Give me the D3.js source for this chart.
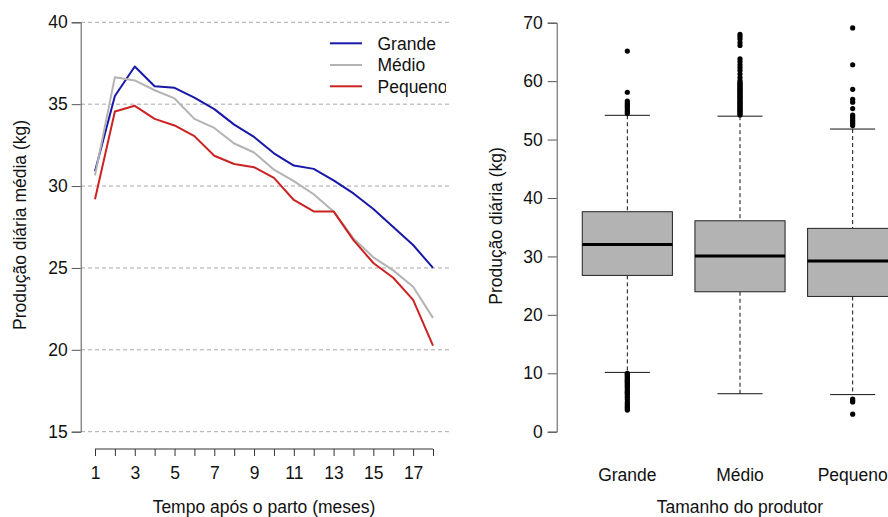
<!DOCTYPE html>
<html>
<head>
<meta charset="utf-8">
<script src="https://cdn.jsdelivr.net/npm/d3@7"></script>
<style>
  html, body { margin: 0; padding: 0; background: #fff; overflow: hidden; }
  svg { display: block; }
  text { font-family: "Liberation Sans", Arial, sans-serif; fill: #111; }
</style>
</head>
<body>
<svg id="chart" width="888" height="517"></svg>
<script>
// Monthly mean daily yield by producer size (months 1..18 after calving)
const months = d3.range(1, 19);
const grandeMean  = [30.9, 35.5, 37.3, 36.1, 36.0, 35.4, 34.7, 33.75, 33.0, 32.0, 31.25, 31.05, 30.35, 29.55, 28.6, 27.5, 26.4, 25.0];
const medioMean   = [30.65, 36.65, 36.45, 35.85, 35.35, 34.1, 33.55, 32.6, 32.05, 31.0, 30.3, 29.5, 28.45, 26.8, 25.65, 24.85, 23.85, 21.95];
const pequenoMean = [29.2, 34.55, 34.9, 34.1, 33.7, 33.05, 31.85, 31.35, 31.15, 30.5, 29.15, 28.45, 28.45, 26.7, 25.3, 24.4, 23.05, 20.25];
const seriesNames = ["Grande", "Médio", "Pequeno"];
const seriesColors = ["#1818a8", "#b3b3b3", "#cc2222"];
const leftYTicks = [15, 20, 25, 30, 35, 40];
const leftXLabels = [1, 3, 5, 7, 9, 11, 13, 15, 17];

// Distribution of daily yield by producer size
const boxCategories = ["Grande", "Médio", "Pequeno"];
const boxLowerWhisker = [10.15, 6.5, 6.35];
const boxQ1 = [26.75, 23.95, 23.15];
const boxMedian = [32.05, 30.05, 29.2];
const boxQ3 = [37.65, 36.1, 34.8];
const boxUpperWhisker = [54.15, 54.0, 51.8];
const grandeOutliers = [65.15, 58.1, 56.6, 56.3, 56.0, 55.7, 55.4, 55.1, 54.8, 54.5,
  10.0, 9.8, 9.6, 9.4, 9.2, 9.0, 8.8, 8.6, 8.4, 8.2, 8.0, 7.8, 7.5, 7.2, 6.9, 6.7, 6.5,
  6.2, 5.9, 5.5, 5.1, 4.8, 4.5, 4.2, 3.9, 3.7];
const medioOutliers = [68.0, 67.6, 67.2, 66.6, 66.1, 63.8, 63.3, 62.8, 62.3, 61.8, 61.2, 60.6, 60.1,
  59.8, 59.6, 59.4, 59.2, 59.0, 58.8, 58.6, 58.4, 58.2, 58.0, 57.8, 57.6, 57.4, 57.2, 57.0,
  56.8, 56.6, 56.4, 56.2, 56.0, 55.8, 55.6, 55.4, 55.2, 55.0, 54.8, 54.6, 54.4, 54.2];
const pequenoOutliers = [69.1, 62.8, 58.6, 56.9, 56.4, 55.3, 54.2, 53.9, 53.6, 53.3, 53.0, 52.7, 52.4,
  5.6, 5.3, 5.1, 3.0];
const rightYTicks = [0, 10, 20, 30, 40, 50, 60, 70];

const svg = d3.select("#chart");
const FS = "17.5px";

// ---------- Left panel: mean yield curves ----------
const xL = d3.scaleLinear().domain([1, 18]).range([95, 433]);
const yL = d3.scaleLinear().domain([15, 40]).range([431.7, 22.3]);
const left = svg.append("g");

left.selectAll("line.grid").data(leftYTicks).join("line")
  .attr("class", "grid")
  .attr("x1", 81).attr("x2", 450)
  .attr("y1", d => yL(d)).attr("y2", d => yL(d))
  .attr("stroke", "#a8a8a8").attr("stroke-width", 1)
  .attr("stroke-dasharray", "4,3");

const yAxisL = left.append("g").attr("transform", "translate(80.7,0)")
  .call(d3.axisLeft(yL).tickValues(leftYTicks).tickSize(9).tickPadding(4));
yAxisL.select(".domain").attr("stroke", "#555");
yAxisL.selectAll(".tick line").attr("stroke", "#555");
yAxisL.selectAll(".tick text").attr("font-size", FS).attr("font-family", "Liberation Sans, Arial, sans-serif").attr("fill", "#111");

const xAxisL = left.append("g").attr("transform", "translate(0,449)")
  .call(d3.axisBottom(xL).tickValues(months).tickSize(7).tickPadding(6)
    .tickFormat(d => leftXLabels.includes(d) ? d : ""));
xAxisL.select(".domain").attr("stroke", "#333").attr("d", `M${xL(1)},0H${xL(18)}`);
xAxisL.selectAll(".tick line").attr("stroke", "#333");
xAxisL.selectAll(".tick text").attr("font-size", FS).attr("font-family", "Liberation Sans, Arial, sans-serif").attr("fill", "#111")
  .attr("dy", "0.95em");

const lineGen = d3.line().x((d, i) => xL(months[i])).y(d => yL(d));
[grandeMean, medioMean, pequenoMean].forEach((s, i) => {
  left.append("path").datum(s)
    .attr("d", lineGen)
    .attr("fill", "none")
    .attr("stroke", seriesColors[i])
    .attr("stroke-width", 2)
    .attr("stroke-linejoin", "round");
});

// Legend (clipped at the plot region's right edge)
svg.append("defs").append("clipPath").attr("id", "plotClip")
  .append("rect").attr("x", 0).attr("y", 0).attr("width", 446).attr("height", 517);
const legend = left.append("g").attr("clip-path", "url(#plotClip)");
const legendY = [43.3, 65, 86.3];
seriesNames.forEach((n, i) => {
  legend.append("line")
    .attr("x1", 330).attr("x2", 362)
    .attr("y1", legendY[i]).attr("y2", legendY[i])
    .attr("stroke", seriesColors[i]).attr("stroke-width", 2);
  legend.append("text")
    .attr("x", 377.5).attr("y", legendY[i] + 6.3)
    .attr("font-size", FS)
    .text(n);
});

left.append("text")
  .attr("x", 264).attr("y", 513)
  .attr("text-anchor", "middle").attr("font-size", FS)
  .text("Tempo após o parto (meses)");
left.append("text")
  .attr("transform", "translate(25.5,225) rotate(-90)")
  .attr("text-anchor", "middle").attr("font-size", FS)
  .text("Produção diária média (kg)");

// ---------- Right panel: boxplots ----------
const xR = d3.scaleBand().domain(boxCategories).range([571, 909]).paddingInner(0.2).paddingOuter(0.1);
const yR = d3.scaleLinear().domain([0, 70]).range([431.7, 22.7]);
const right = svg.append("g");

const yAxisR = right.append("g").attr("transform", "translate(556.7,0)")
  .call(d3.axisLeft(yR).tickValues(rightYTicks).tickSize(9).tickPadding(5));
yAxisR.select(".domain").attr("stroke", "#555");
yAxisR.selectAll(".tick line").attr("stroke", "#555");
yAxisR.selectAll(".tick text").attr("font-size", FS).attr("font-family", "Liberation Sans, Arial, sans-serif").attr("fill", "#111");

const outlierSets = [grandeOutliers, medioOutliers, pequenoOutliers];
boxCategories.forEach((c, i) => {
  const x0 = xR(c), bw = xR.bandwidth(), cx = x0 + bw / 2;
  const g = right.append("g");
  // whiskers
  g.append("line").attr("x1", cx).attr("x2", cx)
    .attr("y1", yR(boxUpperWhisker[i])).attr("y2", yR(boxQ3[i]))
    .attr("stroke", "#111").attr("stroke-dasharray", "4,3");
  g.append("line").attr("x1", cx).attr("x2", cx)
    .attr("y1", yR(boxQ1[i])).attr("y2", yR(boxLowerWhisker[i]))
    .attr("stroke", "#111").attr("stroke-dasharray", "4,3");
  [boxUpperWhisker[i], boxLowerWhisker[i]].forEach(v => {
    g.append("line").attr("x1", cx - bw / 4).attr("x2", cx + bw / 4)
      .attr("y1", yR(v)).attr("y2", yR(v))
      .attr("stroke", "#111").attr("stroke-width", 1);
  });
  // box
  g.append("rect")
    .attr("x", x0).attr("width", bw)
    .attr("y", yR(boxQ3[i])).attr("height", yR(boxQ1[i]) - yR(boxQ3[i]))
    .attr("fill", "#b3b3b3").attr("stroke", "#222").attr("stroke-width", 1);
  g.append("line").attr("x1", x0).attr("x2", x0 + bw)
    .attr("y1", yR(boxMedian[i])).attr("y2", yR(boxMedian[i]))
    .attr("stroke", "#000").attr("stroke-width", 3);
  // outliers
  g.selectAll("circle").data(outlierSets[i]).join("circle")
    .attr("cx", cx).attr("cy", d => yR(d)).attr("r", 2.6)
    .attr("fill", "#000");
  // category label
  right.append("text")
    .attr("x", cx).attr("y", 480.5)
    .attr("text-anchor", "middle").attr("font-size", FS)
    .text(c);
});

right.append("text")
  .attr("x", 740).attr("y", 513)
  .attr("text-anchor", "middle").attr("font-size", FS)
  .text("Tamanho do produtor");
right.append("text")
  .attr("transform", "translate(501.5,226) rotate(-90)")
  .attr("text-anchor", "middle").attr("font-size", FS)
  .text("Produção diária (kg)");
</script>
</body>
</html>
